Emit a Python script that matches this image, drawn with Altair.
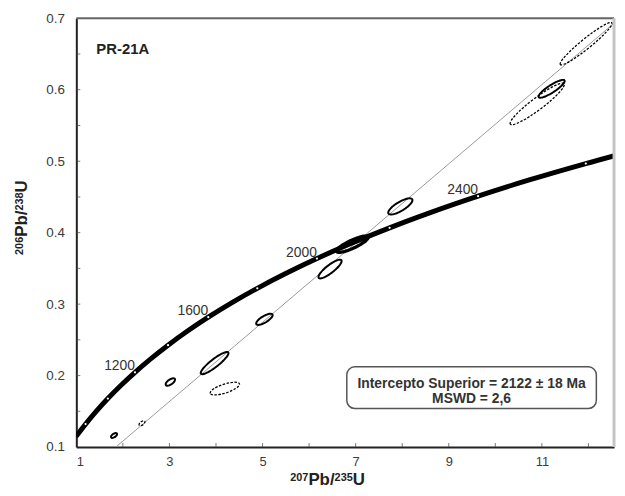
import altair as alt
import pandas as pd

# ---- Concordia curve (age in Ma, 207Pb/235U, 206Pb/238U) ----
conc_age = [700, 800, 900, 1000, 1100, 1200, 1300, 1400, 1500, 1600, 1700,
            1800, 1900, 2000, 2100, 2200, 2300, 2400, 2500, 2600, 2700]
conc_x = [0.99251, 1.19873, 1.42629, 1.67741, 1.95452, 2.26030, 2.59774,
          2.97009, 3.38099, 3.83442, 4.33468, 4.88690, 5.49618, 6.16852,
          6.91038, 7.72917, 8.63262, 9.62958, 10.72971, 11.94371, 13.28335]
conc_y = [0.11470, 0.13213, 0.14983, 0.16782, 0.18606, 0.20460, 0.22344,
          0.24256, 0.26199, 0.28172, 0.30175, 0.32211, 0.34277, 0.36377,
          0.38509, 0.40674, 0.42873, 0.45107, 0.47375, 0.49668, 0.52019]

# age labels on the concordia
label_ages = [1200, 1600, 2000, 2400]

# ---- Discordia line ----
disc_x = [1.85, 12.55]
disc_y = [0.100, 0.693]

# ---- Error ellipses ----
ell_x = [1.81, 2.41, 3.02, 3.97, 4.19, 5.04, 6.45, 6.93, 7.96, 10.90, 11.21, 11.95]
ell_y = [0.1162, 0.1333, 0.1910, 0.2175, 0.1818, 0.2787, 0.3491, 0.3838,
         0.4367, 0.5801, 0.6013, 0.6644]
ell_len = [7, 7, 11, 35, 31, 19, 29, 35, 28, 68, 31, 67]      # long axis (px)
ell_wid = [3.5, 3.5, 5, 8, 9, 6.5, 8, 8, 9, 12, 7.5, 10]       # short axis (px)
ell_ang = [35, 35, 35, 38, 18, 31, 38, 25, 31, 37, 33, 39]      # degrees, ccw
ell_kind = ["solid", "dashed", "solid", "solid", "dashed", "solid",
            "solid", "solid", "solid", "dashed", "solid", "dashed"]

# ---- Axis ticks ----
x_tick_vals = [1, 3, 5, 7, 9, 11]
y_tick_vals = [0.1, 0.2, 0.3, 0.4, 0.5, 0.6, 0.7]
x_minor = [2, 3, 4, 5, 6, 7, 8, 9, 10, 11, 12]
y_minor = [0.15, 0.2, 0.25, 0.3, 0.35, 0.4, 0.45, 0.5, 0.55, 0.6, 0.65]

# ---- Texts ----
sample_name = "PR-21A"
box_lines = ["Intercepto Superior = 2122 \u00b1 18 Ma", "MSWD = 2,6"]
x_title_parts = [("207", True), ("Pb/", False), ("235", True), ("U", False)]
y_title_parts = [("206", True), ("Pb/", False), ("238", True), ("U", False)]

FONT = "Liberation Sans"
W, H = 543, 433
XD = [1, 12.55]
YD = [0.1, 0.7]
MAIN_FS, SUP_FS, SUP_RAISE = 17, 11, 4
CHAR_W = {"P": 0.667, "b": 0.611, "/": 0.278, "U": 0.722}

xs = alt.Scale(domain=XD, nice=False, zero=False)
ys = alt.Scale(domain=YD, nice=False, zero=False)

conc_df = pd.DataFrame({"age": conc_age, "x": conc_x, "y": conc_y})
mark_df = conc_df[conc_df["age"] % 200 == 0]
lab_df = conc_df[conc_df["age"].isin(label_ages)].assign(lab=lambda d: d["age"].astype(str))
disc_df = pd.DataFrame({"x": disc_x, "y": disc_y})


def ellipse_path(ratio):
    k = 0.5523
    r = ratio
    return (f"M -1 0 C -1 {-k*r:.4f} {-k:.4f} {-r:.4f} 0 {-r:.4f} "
            f"C {k:.4f} {-r:.4f} 1 {-k*r:.4f} 1 0 "
            f"C 1 {k*r:.4f} {k:.4f} {r:.4f} 0 {r:.4f} "
            f"C {-k:.4f} {r:.4f} -1 {k*r:.4f} -1 0 Z")


ell_df = pd.DataFrame({
    "x": ell_x, "y": ell_y,
    "shape": [ellipse_path(w / l) for w, l in zip(ell_wid, ell_len)],
    "size": [l * l for l in ell_len],
    "rot": [360 - a for a in ell_ang],
    "kind": ell_kind,
})
ell_df["sw"] = [1.3 if k == "dashed" else 2.0 for k in ell_kind]
ell_df.loc[7, "sw"] = 3.4


def text_width(s, fs):
    return sum(CHAR_W.get(c, 0.556) for c in s) * fs


def title_rows(parts, start, base, vertical):
    rows, pos = [], 0.0
    for txt, sup in parts:
        fs = SUP_FS if sup else MAIN_FS
        off = SUP_RAISE if sup else 0
        if vertical:
            rows.append({"t": txt, "fs": fs, "px": base - off, "py": start - pos, "ang": 270})
        else:
            rows.append({"t": txt, "fs": fs, "px": start + pos, "py": base - off, "ang": 0})
        pos += text_width(txt, fs)
    return rows


title_df = pd.DataFrame(
    title_rows(x_title_parts, 216, H + 38, False) +
    title_rows(y_title_parts, 239, -50, True)
)

x_axis = alt.Axis(values=x_tick_vals, title=None,
                  grid=False, ticks=False, tickSize=0, labelPadding=9,
                  labelFont=FONT, labelFontSize=13, labelColor="#3a3a3a",
                  domainColor="#222", domainWidth=2)
y_axis = alt.Axis(values=y_tick_vals, title=None,
                  grid=False, ticks=False, tickSize=0, labelPadding=12,
                  labelFont=FONT, labelFontSize=13.5, labelColor="#3a3a3a",
                  domainColor="#222", domainWidth=2, format=".1f")

disc = alt.Chart(disc_df).mark_line(color="#9a9a9a", strokeWidth=1, clip=True).encode(
    x=alt.X("x:Q", scale=xs, axis=x_axis),
    y=alt.Y("y:Q", scale=ys, axis=y_axis),
)

conc = alt.Chart(conc_df).mark_line(color="black", strokeWidth=5, clip=True,
                                    interpolate="monotone").encode(
    x=alt.X("x:Q", scale=xs), y=alt.Y("y:Q", scale=ys))

conc_marks = alt.Chart(mark_df).mark_point(shape="circle", filled=True, color="white",
                                           size=5, opacity=1, clip=True).encode(
    x=alt.X("x:Q", scale=xs), y=alt.Y("y:Q", scale=ys))

conc_labels = alt.Chart(lab_df).mark_text(align="right", baseline="alphabetic", dy=-2,
                                          font=FONT, fontSize=14, color="#333").encode(
    x=alt.X("x:Q", scale=xs), y=alt.Y("y:Q", scale=ys), text="lab:N")

ells = alt.Chart(ell_df).mark_point(filled=False, opacity=1, color="black").encode(
    x=alt.X("x:Q", scale=xs), y=alt.Y("y:Q", scale=ys),
    shape=alt.Shape("shape:N", scale=None),
    size=alt.Size("size:Q", scale=None),
    angle=alt.Angle("rot:Q", scale=None),
    strokeWidth=alt.StrokeWidth("sw:Q", scale=None),
    strokeDash=alt.StrokeDash("kind:N", scale=alt.Scale(domain=["solid", "dashed"],
                                                        range=[[1, 0], [2.5, 1.5]]),
                              legend=None),
)

xt_df = pd.DataFrame({"x": x_minor, "y": [YD[0]] * len(x_minor)})
yt_df = pd.DataFrame({"x": [XD[0]] * len(y_minor), "y": y_minor})
xticks = alt.Chart(xt_df).mark_tick(orient="vertical", size=4, thickness=1,
                                    color="#444", yOffset=-2).encode(
    x=alt.X("x:Q", scale=xs), y=alt.Y("y:Q", scale=ys))
yticks = alt.Chart(yt_df).mark_tick(orient="horizontal", size=4, thickness=1,
                                    color="#444", xOffset=2).encode(
    x=alt.X("x:Q", scale=xs), y=alt.Y("y:Q", scale=ys))

name_df = pd.DataFrame({"x": [1.43], "y": [0.657], "t": [sample_name]})
name_txt = alt.Chart(name_df).mark_text(align="left", baseline="middle", font=FONT,
                                        fontSize=15, fontWeight="bold",
                                        color="#222").encode(
    x=alt.X("x:Q", scale=xs), y=alt.Y("y:Q", scale=ys), text="t:N")

box_df = pd.DataFrame({"x": [6.81], "x2": [12.17], "y": [0.154], "y2": [0.2122]})
box = alt.Chart(box_df).mark_rect(fill="white", stroke="#555", strokeWidth=1.5,
                                  cornerRadius=8).encode(
    x=alt.X("x:Q", scale=xs), x2="x2:Q", y=alt.Y("y:Q", scale=ys), y2="y2:Q")

bt_df = pd.DataFrame({"x": [9.49, 9.49], "y": [0.1887, 0.1672], "t": box_lines})
box_txt = alt.Chart(bt_df).mark_text(align="center", baseline="middle", font=FONT,
                                     fontSize=14, fontWeight="bold",
                                     color="#333").encode(
    x=alt.X("x:Q", scale=xs), y=alt.Y("y:Q", scale=ys), text="t:N")

titles = alt.Chart(title_df).mark_text(align="left", baseline="alphabetic", font=FONT,
                                       fontWeight="bold", color="#222").encode(
    x=alt.X("px:Q", scale=None), y=alt.Y("py:Q", scale=None),
    text="t:N",
    size=alt.Size("fs:Q", scale=None),
    angle=alt.Angle("ang:Q", scale=None),
)

top_rule = alt.Chart(name_df).mark_rule(color="#666", strokeWidth=2).encode(
    x=alt.value(0), x2=alt.value(W), y=alt.value(0))
right_rule = alt.Chart(name_df).mark_rule(color="#c4c4c4", strokeWidth=3).encode(
    x=alt.value(W), y=alt.value(0), y2=alt.value(H))

chart = alt.layer(
    disc, ells, conc, conc_marks, conc_labels, xticks, yticks, name_txt, box, box_txt,
    top_rule, right_rule, titles,
).properties(
    width=W, height=H,
    autosize="none",
    padding={"left": 69, "top": 8, "right": 3, "bottom": 39},
).configure_view(stroke=None).configure(background="white")

chart.save("out.html", embed_options={"renderer": "svg", "actions": False})
